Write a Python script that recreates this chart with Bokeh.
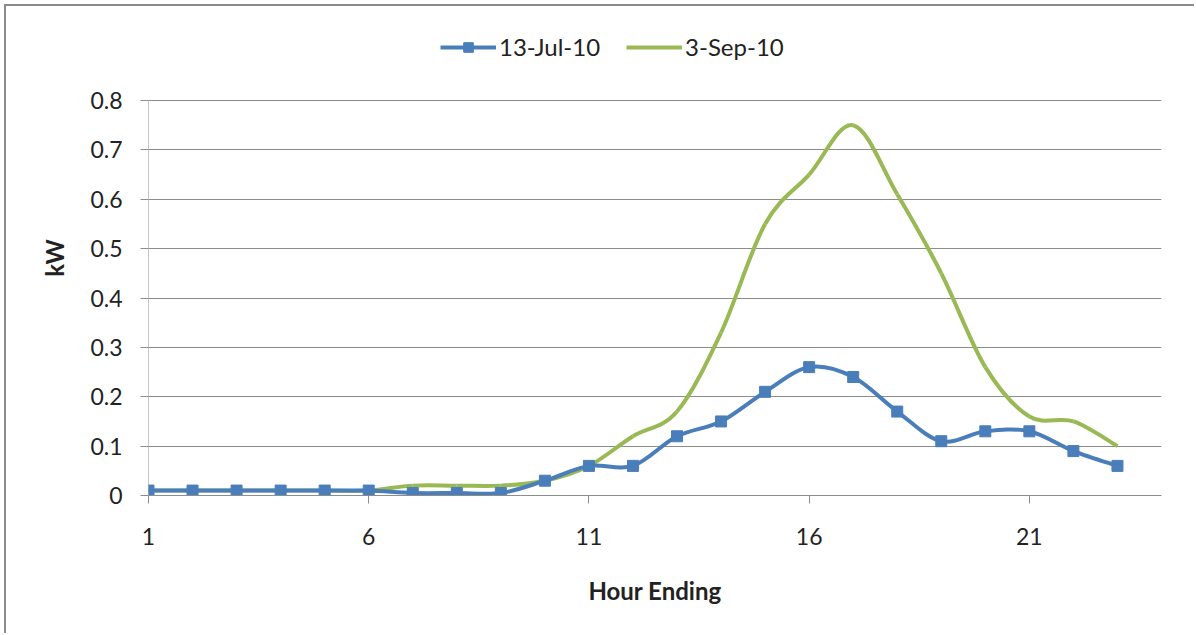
from bokeh.plotting import figure
from bokeh.models import (ColumnDataSource, Legend, LegendItem, FixedTicker,
                          Range1d)
from bokeh.embed import file_html
from bokeh.resources import INLINE

# Hourly demand, kW, by hour ending
hours = list(range(1, 24))
jul_13 = [0.01, 0.01, 0.01, 0.01, 0.01, 0.01, 0.005, 0.005, 0.005, 0.03, 0.06, 0.06,
          0.12, 0.15, 0.21, 0.26, 0.24, 0.17, 0.11, 0.13, 0.13, 0.09, 0.06]
sep_3 = [0.01, 0.01, 0.01, 0.01, 0.01, 0.01, 0.02, 0.02, 0.02, 0.03, 0.06, 0.12,
         0.17, 0.33, 0.55, 0.65, 0.75, 0.61, 0.45, 0.26, 0.16, 0.15, 0.10]
x_ticks = [1, 6, 11, 16, 21]
y_ticks = [0, 0.1, 0.2, 0.3, 0.4, 0.5, 0.6, 0.7, 0.8]
series_names = ["13-Jul-10", "3-Sep-10"]

BLUE = "#4a7ebb"
GREEN = "#98b954"
GRID = "#8c8c8c"
TEXT = "#222222"
FONT = "Lato"

# the frame reaches above the top gridline so the legend can sit inside it
FRAME_H = 475
GRID_H = 395
y_top = y_ticks[-1] * FRAME_H / GRID_H


def smooth_segments(xs, ys):
    """Cubic Bezier segments (Catmull-Rom style) through every point."""
    n = len(xs)
    d = dict(x0=[], y0=[], x1=[], y1=[], cx0=[], cy0=[], cx1=[], cy1=[])
    for i in range(n - 1):
        a = max(i - 1, 0)
        b = min(i + 2, n - 1)
        d["x0"].append(xs[i]); d["y0"].append(ys[i])
        d["x1"].append(xs[i + 1]); d["y1"].append(ys[i + 1])
        d["cx0"].append(xs[i] + (xs[i + 1] - xs[a]) / 6)
        d["cy0"].append(ys[i] + (ys[i + 1] - ys[a]) / 6)
        d["cx1"].append(xs[i + 1] - (xs[b] - xs[i]) / 6)
        d["cy1"].append(ys[i + 1] - (ys[b] - ys[i]) / 6)
    return ColumnDataSource(d)


p = figure(width=1190, height=629, output_backend="svg", toolbar_location=None,
           x_range=Range1d(1, 24), y_range=Range1d(0, y_top),
           min_border_left=142, min_border_right=35,
           min_border_top=629 - 140 - FRAME_H, min_border_bottom=140)
p.styles = {"margin-left": "4px", "margin-top": "4px",
            "border-left": "2px solid #8c8c8c", "border-top": "2px solid #8c8c8c"}
p.outline_line_color = None
p.background_fill_color = "white"
p.border_fill_color = "white"

# value axis line, drawn only over the tick span
p.segment(x0=[hours[0]], y0=[y_ticks[0]], x1=[hours[0]], y1=[y_ticks[-1]],
          line_color=GRID, line_width=1)

# smoothed series
green = p.bezier(x0="x0", y0="y0", x1="x1", y1="y1", cx0="cx0", cy0="cy0",
                 cx1="cx1", cy1="cy1", source=smooth_segments(hours, sep_3),
                 line_color=GREEN, line_width=4)
blue = p.bezier(x0="x0", y0="y0", x1="x1", y1="y1", cx0="cx0", cy0="cy0",
                cx1="cx1", cy1="cy1", source=smooth_segments(hours, jul_13),
                line_color=BLUE, line_width=4)
sq = p.scatter(hours, jul_13, marker="square", size=11, fill_color=BLUE, line_color=BLUE)

legend = Legend(items=[LegendItem(label=series_names[0], renderers=[blue, sq]),
                       LegendItem(label=series_names[1], renderers=[green])],
                orientation="horizontal", location=(292, FRAME_H - 41),
                glyph_width=56, glyph_height=24, label_standoff=3, spacing=26,
                padding=0, margin=0, border_line_color=None,
                background_fill_alpha=0, label_text_font=FONT,
                label_text_font_size="24px", label_text_color=TEXT)
p.add_layout(legend, "center")

# axes
p.xaxis.ticker = FixedTicker(ticks=x_ticks)
p.yaxis.ticker = FixedTicker(ticks=y_ticks)
p.yaxis.formatter.use_scientific = False
for ax in (p.xaxis, p.yaxis):
    ax.axis_line_color = GRID
    ax.major_tick_line_color = GRID
    ax.minor_tick_line_color = None
    ax.major_tick_in = 0
    ax.major_tick_out = 8
    ax.major_label_text_font = FONT
    ax.major_label_text_font_size = "23px"
    ax.major_label_text_color = TEXT
    ax.axis_label_text_font = FONT
    ax.axis_label_text_font_size = "24px"
    ax.axis_label_text_font_style = "bold"
    ax.axis_label_text_color = TEXT
p.yaxis.axis_line_color = None
p.yaxis.major_label_overrides = {0: "0"}
p.xaxis.axis_label = "Hour Ending"
p.yaxis.axis_label = "kW"
p.xaxis.major_label_standoff = 24
p.yaxis.major_label_standoff = 18
p.xaxis.axis_label_standoff = 28
p.yaxis.axis_label_standoff = 18

p.xgrid.grid_line_color = None
p.ygrid.grid_line_color = GRID
p.ygrid.grid_line_width = 1

open("out.html", "w").write(file_html(p, INLINE))
